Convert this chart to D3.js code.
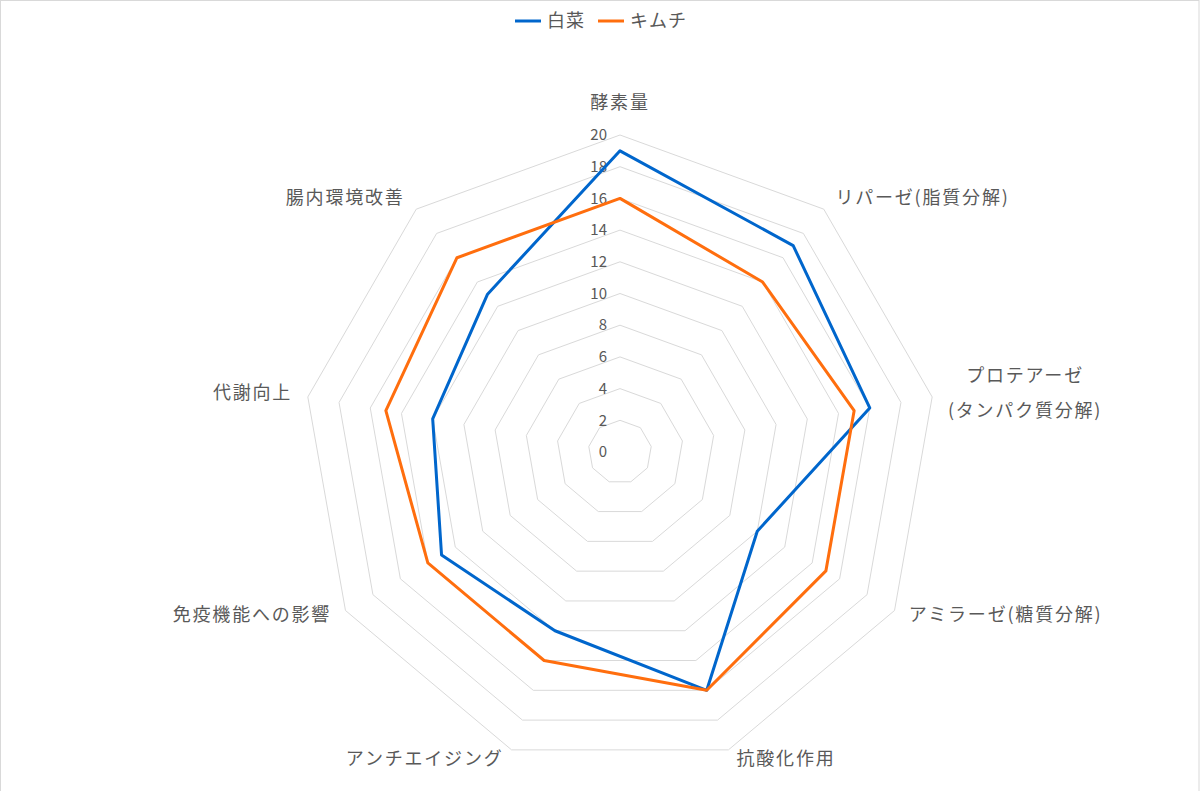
<!DOCTYPE html>
<html>
<head>
<meta charset="utf-8">
<script src="https://cdn.jsdelivr.net/npm/d3@7"></script>
<style>
  html, body { margin: 0; padding: 0; background: #fff; }
  svg { display: block; font-family: "Noto Sans CJK JP", "Noto Sans", sans-serif; }
</style>
</head>
<body>
<script>
const categories = [
    "酵素量",
    "リパーゼ(脂質分解)",
    "プロテアーゼ\n(タンパク質分解)",
    "アミラーゼ(糖質分解)",
    "抗酸化作用",
    "アンチエイジング",
    "免疫機能への影響",
    "代謝向上",
    "腸内環境改善"
];
const seriesNames = ["白菜", "キムチ"];
const hakusaiValues = [19, 17, 16, 10, 16, 12, 13, 12, 13];
const kimchiValues = [16, 14, 15, 15, 16, 14, 14, 15, 16];
const tickValues = [0, 2, 4, 6, 8, 10, 12, 14, 16, 18, 20];
const colors = ["#0066cc", "#ff6e0e"];

const width = 1200;
const height = 791;
const cx = 620;
const cy = 452;
const radius = 317;

const svg = d3.select("body").append("svg")
    .attr("width", width)
    .attr("height", height);

// chart border (bottom edge falls outside the window)
svg.append("rect")
    .attr("x", 0.5).attr("y", 0.5)
    .attr("width", width - 1.5).attr("height", height + 10)
    .attr("fill", "#fff")
    .attr("stroke", "#d9d9d9");

const r = d3.scaleLinear().domain([0, 20]).range([0, radius]);
const angle = d3.scaleLinear().domain([0, categories.length]).range([0, 2 * Math.PI]);

const point = (i, v) => [cx + r(v) * Math.sin(angle(i)), cy - r(v) * Math.cos(angle(i))];

const g = svg.append("g");

// grid polygons
g.selectAll("polygon.grid")
    .data(tickValues.slice(1))
    .enter()
    .append("polygon")
    .attr("class", "grid")
    .attr("points", (t) => categories.map((c, i) => point(i, t).join(",")).join(" "))
    .attr("fill", "none")
    .attr("stroke", "#d9d9d9")
    .attr("stroke-width", 1);

// tick labels
g.selectAll("text.tick")
    .data(tickValues)
    .enter()
    .append("text")
    .attr("class", "tick")
    .attr("x", cx - 13)
    .attr("y", (t) => cy - r(t))
    .attr("dy", "0.35em")
    .attr("text-anchor", "end")
    .attr("font-size", 15)
    .attr("fill", "#595959")
    .text((t) => t);

// series
const line = d3.line().curve(d3.curveLinearClosed);
const series = [hakusaiValues, kimchiValues];

g.selectAll("path.series")
    .data(series)
    .enter()
    .append("path")
    .attr("class", "series")
    .attr("d", (vals) => line(vals.map((v, i) => point(i, v))))
    .attr("fill", "none")
    .attr("stroke", (d, i) => colors[i])
    .attr("stroke-width", 3)
    .attr("stroke-linejoin", "round");

// category labels
categories.forEach((c, i) => {
    const a = angle(i);
    const [px, py] = point(i, 20.75);
    const s = Math.sin(a);
    const lines = c.split("\n");
    const lineH = 35;
    const label = g.append("text")
        .attr("font-size", 18)
        .attr("letter-spacing", 1.8)
        .attr("fill", "#595959");
    lines.forEach((t, k) => {
        label.append("tspan")
            .attr("x", 0)
            .attr("y", (k - (lines.length - 1) / 2) * lineH)
            .attr("dy", "0.35em")
            .text(t);
    });
    let x = px;
    let y = py;
    if (Math.abs(s) < 0.1) {
        y = py - 20;
    } else {
        const w = d3.max(label.selectAll("tspan").nodes(), (n) => n.getComputedTextLength());
        if (s > 0) x = px + 4 + w / 2;
        else x = px - 4 - w / 2;
        y = py - 2;
    }
    label.attr("text-anchor", "middle").attr("transform", `translate(${x},${y})`);
});

// legend
const legend = svg.append("g").attr("transform", "translate(515,21)");
const legendX = [0, 83];
seriesNames.forEach((name, i) => {
    const item = legend.append("g").attr("transform", `translate(${legendX[i]},0)`);
    item.append("line")
        .attr("x1", 0).attr("x2", 26)
        .attr("y1", 0).attr("y2", 0)
        .attr("stroke", colors[i])
        .attr("stroke-width", 3);
    item.append("text")
        .attr("x", 32)
        .attr("dy", "0.35em")
        .attr("font-size", 18)
        .attr("letter-spacing", 1)
        .attr("fill", "#595959")
        .text(name);
});
</script>
</body>
</html>
